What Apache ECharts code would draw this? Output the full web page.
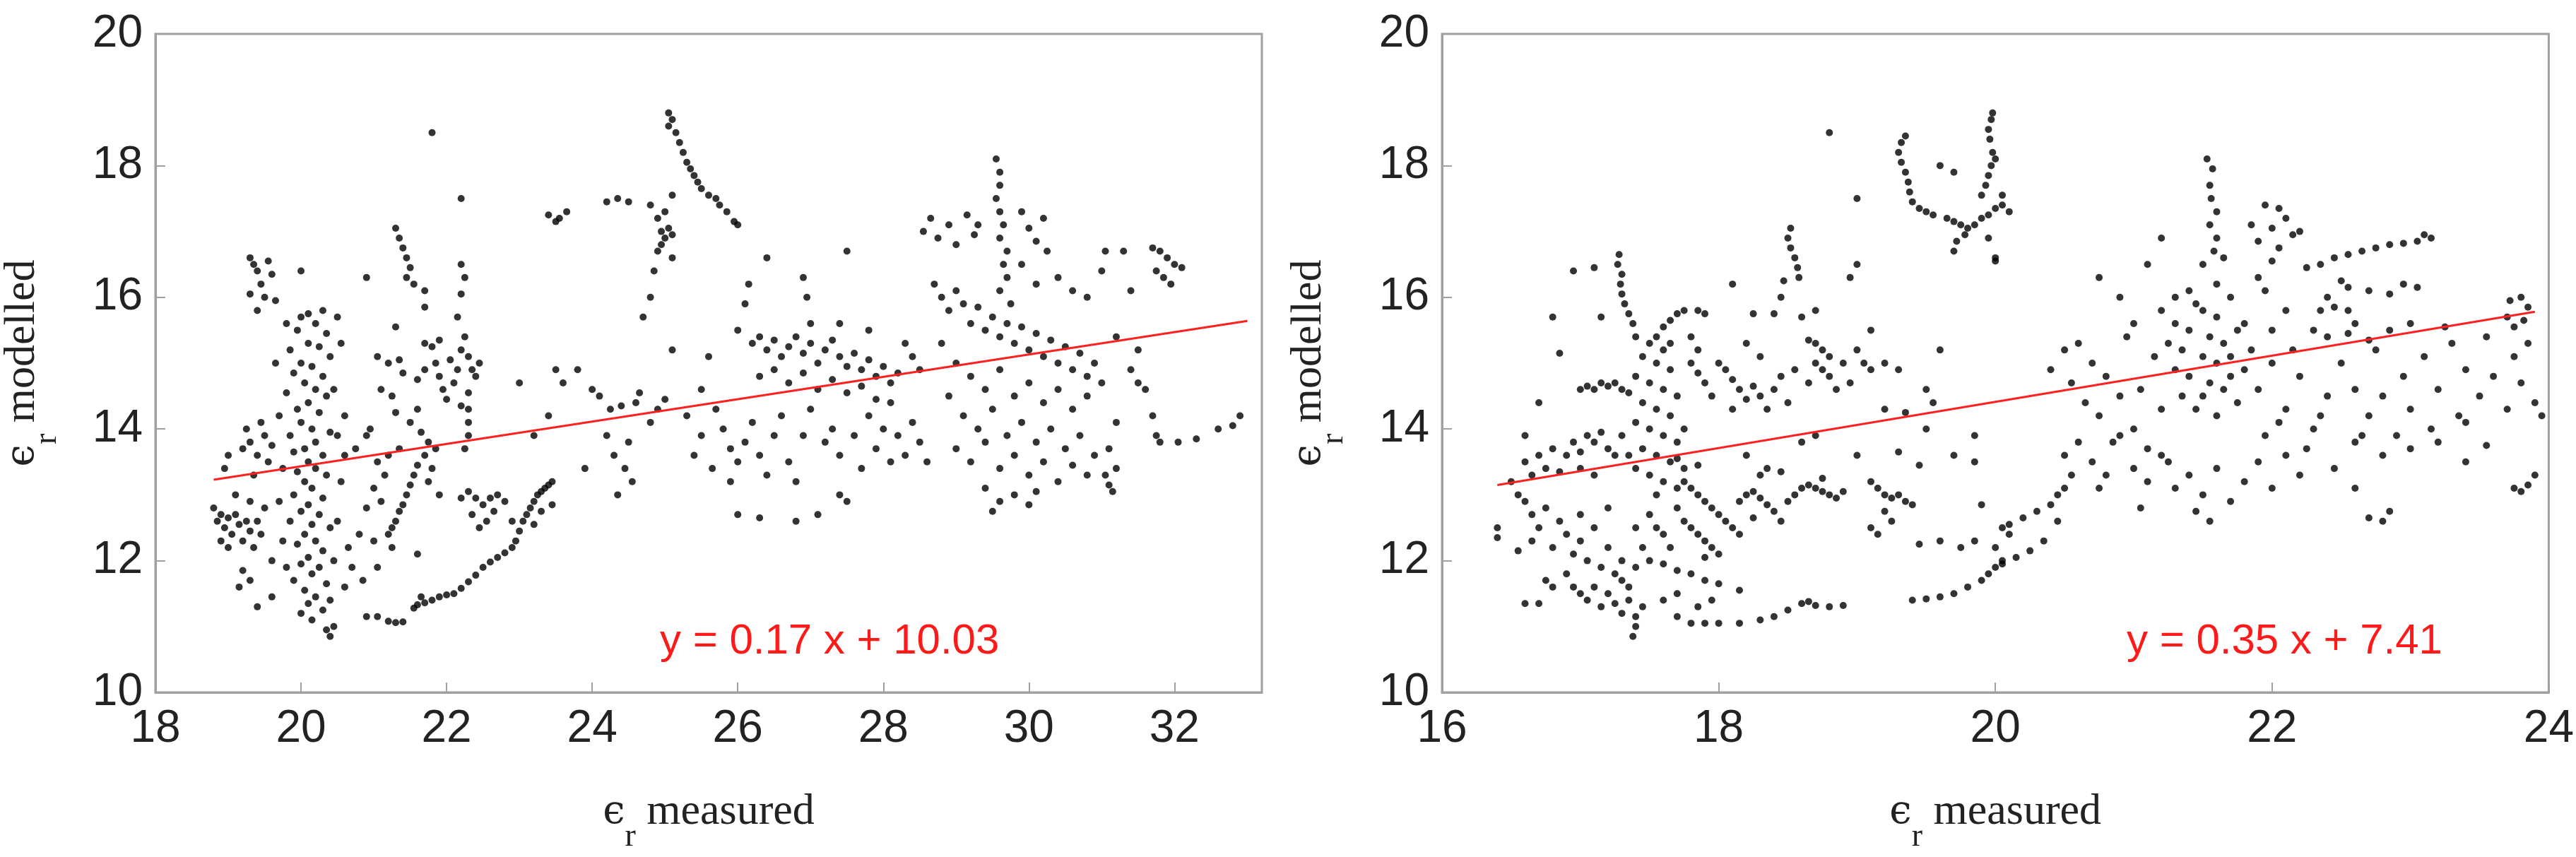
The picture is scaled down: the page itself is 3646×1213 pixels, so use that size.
<!DOCTYPE html>
<html><head><meta charset="utf-8">
<script src="https://cdn.jsdelivr.net/npm/echarts@6/dist/echarts.min.js"></script>
<style>html,body{margin:0;padding:0;background:#fff}#c{width:3646px;height:1213px}</style>
</head><body><div id="c"></div>
<script>
const leftXTicks=[18,20,22,24,26,28,30,32];
const rightXTicks=[16,18,20,22,24];
const yTicks=[10,12,14,16,18,20];
const leftEquation='y = 0.17 x + 10.03';
const rightEquation='y = 0.35 x + 7.41';
const leftFit=[[18.8,13.23],[33.0,15.64]];
const rightFit=[[16.4,13.15],[23.9,15.78]];
const leftPoints=[
[20.0,15.7],[20.1,15.75],[20.3,15.8],[20.2,15.6],[19.95,15.5],[20.35,15.45],[20.1,15.3],[19.85,15.2],[20.25,15.25],[20.4,15.1],[20.0,15.0],[20.15,14.95],[19.9,14.85],[20.3,14.8],[20.05,14.7],[20.2,14.6],[19.8,14.55],[20.35,14.5],[20.1,14.4],[19.95,14.3],[20.25,14.25],[20.0,14.1],[20.15,14.0],[20.4,13.95],[19.85,13.9],[20.2,13.8],[20.05,13.7],[19.9,13.65],[20.3,13.6],[20.1,13.5],[20.2,13.4],[19.95,13.35],[20.35,13.3],[20.05,13.2],[20.15,13.1],[19.9,13.0],[20.3,12.95],[20.1,12.85],[20.0,12.75],[20.25,12.7],[19.85,12.6],[20.15,12.55],[20.4,12.5],[20.05,12.4],[20.2,12.3],[19.95,12.25],[20.3,12.15],[20.1,12.05],[20.0,11.95],[20.25,11.9],[20.15,11.8],[19.9,11.7],[20.35,11.65],[20.05,11.55],[20.2,11.45],[20.1,11.35],[20.3,11.25],[20.0,11.2],[20.15,11.1],[20.35,10.95],[20.4,11.4],[20.45,12.0],[20.5,12.6],[20.55,13.2],[20.5,13.9],[20.45,14.6],[19.75,13.4],[19.7,12.9],[19.75,12.3],[19.8,11.9],[19.7,14.2],[19.65,15.0],[19.8,15.6],[20.55,15.3],[20.6,14.2],[20.65,12.2],[20.6,11.6],[20.7,11.9],[20.8,12.4],[20.9,12.8],[21.0,12.3],[20.85,11.7],[21.05,11.9],[20.45,11.0],[20.4,10.85],[20.6,13.6],[20.75,13.7],[20.5,15.7],
[18.8,12.8],[18.85,12.6],[18.9,12.7],[18.95,12.5],[19.0,12.65],[19.05,12.4],[19.1,12.7],[19.15,12.55],[19.2,12.3],[19.25,12.6],[19.3,12.45],[19.35,12.2],[19.0,12.2],[18.9,12.3],[19.4,12.6],[19.45,12.4],[19.5,12.8],[19.3,12.9],[19.1,13.0],[19.2,13.7],[19.3,13.8],[19.4,13.6],[19.5,13.9],[19.6,13.75],[19.25,14.0],[19.45,14.1],[19.55,13.5],[19.6,12.0],[19.3,11.7],[19.15,11.6],[19.4,11.3],[19.6,11.45],[19.2,11.85],[18.95,13.4],[19.0,13.6],[19.35,13.3],
[19.3,16.6],[19.35,16.5],[19.4,16.4],[19.55,16.55],[19.6,16.35],[19.45,16.2],[19.5,16.0],[19.3,16.05],[19.65,15.95],[19.4,15.8],[20.0,16.4],
[21.3,17.05],[21.35,16.9],[21.4,16.75],[21.45,16.6],[21.5,16.45],[21.45,16.3],[21.55,16.2],[21.7,16.1],[21.7,15.85],[21.3,15.55],[21.05,15.1],[21.2,15.0],[21.35,15.05],[21.4,14.85],[21.1,14.6],[21.25,14.5],[21.3,14.25],[21.6,14.3],[21.5,14.1],[21.65,13.95],[21.75,13.8],[21.7,13.6],[21.6,13.45],[21.55,13.3],[21.5,13.15],[21.45,13.0],[21.4,12.85],[21.35,12.75],[21.3,12.6],[21.25,12.5],[21.2,12.4],[21.15,13.3],[21.05,13.5],[21.2,13.6],[21.35,13.7],[20.95,14.0],[20.9,13.9],[21.1,12.9],[21.0,13.1],[21.25,12.2],[21.8,13.4],[21.85,13.7],[21.75,13.2],
[21.7,15.3],[21.8,15.25],[21.9,15.35],[21.85,15.0],[21.9,14.8],[21.95,14.6],[22.0,14.45],[22.1,14.7],[22.15,14.9],[22.05,15.05],[22.2,15.2],[22.25,15.4],[22.3,15.1],[22.35,14.9],[22.4,14.8],[22.45,15.0],[22.3,14.55],[21.6,14.75],[21.7,14.9],[22.2,14.35],[22.3,14.3],[22.25,13.7],[22.3,13.9],[22.3,14.1],[22.2,16.5],[22.25,16.3],[22.2,16.05],[21.8,18.5],[22.2,17.5],[22.15,15.7],[20.9,16.3],
[20.9,11.15],[21.05,11.15],[21.2,11.08],[21.3,11.06],[21.4,11.07],[21.55,11.28],[21.6,11.33],[21.7,11.36],[21.8,11.4],[21.9,11.45],[22.0,11.48],[22.1,11.5],[22.2,11.58],[22.3,11.68],[22.4,11.78],[22.5,11.9],[22.6,11.98],[22.7,12.05],[22.8,12.12],[22.9,12.2],[22.95,12.3],[23.0,12.45],[23.05,12.6],[23.1,12.7],[23.15,12.8],[23.2,12.9],[23.25,13.0],[23.3,13.05],[23.35,13.1],[23.4,13.15],[23.3,12.75],[23.2,12.55],[23.45,12.85],[23.45,13.2],[21.65,11.45],
[22.3,13.05],[22.4,12.95],[22.5,12.85],[22.6,12.95],[22.7,13.0],[22.8,12.9],[22.65,12.75],[22.55,12.6],[22.45,12.5],[22.35,12.7],[22.9,12.6],[22.2,12.95],[21.9,13.0],[21.6,12.1],
[23.4,17.25],[23.5,17.15],[23.55,17.2],[23.65,17.3],[24.2,17.45],[24.35,17.5],[24.5,17.45],[24.8,17.4],[24.9,17.2],[24.95,17.0],[25.0,16.9],[24.95,16.8],[25.05,17.05],[25.0,17.3],[24.9,16.7],[24.85,16.4],[25.1,16.95],[25.1,16.6],[25.05,18.8],[25.1,18.7],[25.05,18.6],[25.15,18.5],[25.2,18.35],[25.25,18.2],[25.3,18.05],[25.35,17.95],[25.4,17.85],[25.45,17.75],[25.5,17.65],[25.6,17.55],[25.7,17.5],[25.75,17.4],[25.85,17.3],[25.95,17.15],[26.0,17.1],[25.1,17.55],[24.8,16.0],[24.7,15.7],
[23.2,13.9],[23.4,14.2],[23.6,14.7],[23.8,14.9],[23.5,14.9],[24.0,14.6],[24.1,14.5],[24.25,14.3],[24.4,14.35],[24.3,13.6],[24.5,13.8],[24.6,14.4],[24.65,14.55],[24.8,14.1],[24.9,14.3],[25.0,14.45],[25.1,15.2],[25.3,14.2],[25.4,13.6],[25.5,14.6],[25.6,15.1],[25.5,13.9],[24.45,13.4],[24.55,13.2],[24.35,13.0],[23.9,13.4],[24.2,13.9],[23.0,14.7],
[26.0,15.5],[26.2,15.3],[26.3,15.4],[26.4,15.2],[26.5,15.35],[26.6,15.1],[26.7,15.25],[26.8,15.4],[26.9,15.15],[27.0,15.3],[27.1,15.0],[27.2,15.2],[27.3,15.35],[27.4,15.1],[27.5,14.95],[27.6,15.15],[27.7,14.9],[27.8,15.05],[27.9,14.8],[28.0,14.95],[28.1,14.7],[28.2,14.85],[26.5,14.9],[26.7,14.7],[26.9,14.85],[27.1,14.6],[27.3,14.75],[27.5,14.55],[27.7,14.65],[27.9,14.45],[28.1,14.4],[26.3,14.8],[27.0,15.6],[27.4,15.6],[27.8,15.5],[28.3,15.3],[28.4,15.1],[28.5,14.9],[26.15,16.2],[26.1,15.9],[26.4,16.6],[26.9,16.3],[26.95,16.0],[27.5,16.7],
[25.7,14.3],[25.8,14.0],[25.9,13.7],[26.0,13.5],[26.1,13.8],[26.2,14.1],[26.3,13.6],[26.4,13.3],[26.5,13.9],[26.6,14.2],[26.7,13.5],[26.8,13.2],[26.9,13.9],[27.0,14.3],[27.2,13.8],[27.3,14.0],[27.4,13.6],[27.6,13.9],[27.7,13.4],[27.8,14.2],[27.9,13.7],[28.0,14.0],[28.1,13.5],[28.2,13.9],[28.3,13.6],[28.4,14.1],[28.5,13.8],[28.6,13.5],[26.0,12.7],[26.3,12.65],[26.8,12.6],[27.1,12.7],[27.4,13.0],[27.5,12.9],[25.65,13.4],[25.9,13.2],
[28.7,16.2],[28.8,16.0],[28.9,15.8],[29.0,16.1],[29.1,15.9],[29.2,15.6],[29.3,15.85],[29.4,15.5],[29.5,15.7],[29.6,15.4],[29.7,15.6],[29.8,15.3],[29.9,15.55],[30.0,15.2],[30.1,15.45],[30.2,15.1],[30.3,15.35],[30.4,15.0],[30.5,15.25],[30.6,14.9],[30.7,15.15],[30.8,14.8],[30.9,15.0],[31.0,14.7],[28.8,15.3],[29.0,15.0],[29.2,14.8],[29.4,14.6],[29.6,14.9],[29.8,14.5],[30.0,14.7],[30.2,14.4],[30.4,14.6],[30.6,14.3],[30.8,14.5],[28.9,14.5],[29.1,14.2],[29.3,14.0],[29.5,14.3],[29.7,13.9],[29.9,14.1],[30.1,13.8],[30.3,14.0],[30.5,13.7],[30.7,13.9],[30.9,13.6],[29.0,13.7],[29.2,13.5],[29.4,13.8],[29.6,13.4],[29.8,13.6],[30.0,13.3],[30.2,13.5],[30.4,13.2],[30.6,13.45],[30.8,13.3],[29.4,13.1],[29.6,12.9],[29.8,13.0],[30.0,12.85],[30.1,13.05],[29.5,12.75],
[29.55,18.1],[29.6,17.9],[29.6,17.7],[29.55,17.5],[29.6,17.3],[29.65,17.1],[29.6,16.9],[29.7,16.7],[29.65,16.5],[29.7,16.3],[29.6,16.1],[29.75,15.9],
[28.55,17.0],[28.65,17.2],[28.75,16.9],[28.9,17.1],[29.0,16.8],[29.15,17.25],[29.25,16.95],[29.3,17.1],[29.9,17.3],[30.0,17.05],[30.1,16.85],[30.2,17.2],[30.25,16.7],[29.9,16.5],[30.1,16.2],[30.4,16.3],[30.6,16.1],[30.8,16.0],[31.0,16.4],[31.05,16.7],
[31.3,16.7],[31.7,16.75],[31.8,16.7],[31.9,16.6],[32.0,16.5],[32.1,16.45],[31.75,16.4],[31.85,16.3],[31.95,16.2],[31.4,16.1],[31.2,15.4],[31.5,15.2],[31.4,14.9],[31.5,14.7],[31.6,14.6],[31.7,14.2],[31.75,13.9],[31.8,13.8],[32.05,13.8],[32.3,13.85],[32.6,14.0],[32.8,14.05],[32.9,14.2],[31.2,14.1],[31.1,13.7],[31.05,13.3],[31.1,13.15],[31.15,13.05],[31.2,13.4]
];
const rightPoints=[
[17.4,15.4],[17.5,15.3],[17.6,15.2],[17.45,15.1],[17.55,15.0],[17.65,14.9],[17.4,14.8],[17.5,14.7],[17.6,14.6],[17.7,14.5],[17.45,14.4],[17.55,14.3],[17.65,14.2],[17.4,14.1],[17.5,14.0],[17.6,13.9],[17.7,13.8],[17.45,13.7],[17.55,13.6],[17.65,13.5],[17.4,13.4],[17.5,13.3],[17.6,13.2],[17.7,13.1],[17.55,13.0],[17.35,13.6],[17.3,13.9],[17.75,14.0],[17.75,13.4],[17.65,15.3],
[17.28,16.65],[17.27,16.5],[17.3,16.35],[17.29,16.2],[17.3,16.05],[17.32,15.9],[17.35,15.75],[17.38,15.6],[16.95,16.4],[17.1,16.45],[16.8,15.7],[17.15,15.7],
[17.6,15.55],[17.65,15.65],[17.7,15.75],[17.75,15.8],[17.85,15.8],[17.9,15.75],[17.55,15.4],[17.8,15.4],[17.85,15.2],
[17.0,14.6],[17.05,14.65],[17.1,14.6],[17.15,14.7],[17.2,14.65],[17.25,14.7],[17.3,14.6],[17.35,14.55],[16.7,14.4],
[16.6,13.5],[16.7,13.6],[16.75,13.4],[16.8,13.7],[16.9,13.6],[16.95,13.8],[17.0,13.65],[17.05,13.9],[17.1,13.8],[17.15,13.95],[17.2,13.7],[17.25,13.6],[16.65,13.3],[16.85,13.35],[17.0,13.4],[17.1,13.3],[16.5,13.2],[16.55,13.0],
[16.6,12.9],[16.65,12.7],[16.7,12.5],[16.75,12.8],[16.65,12.3],[16.8,12.2],[16.85,12.6],[16.9,12.4],[16.95,12.1],[17.0,12.3],[17.05,12.0],[17.1,12.5],[17.15,11.9],[17.2,12.2],[17.25,11.8],[17.3,12.0],[17.35,11.6],[17.4,11.9],[16.9,11.8],[16.95,11.6],[17.0,11.5],[17.05,11.4],[17.1,11.6],[17.15,11.3],[17.2,11.5],[17.25,11.35],[17.3,11.2],[17.35,11.4],[17.4,11.15],[17.45,11.3],[16.8,11.6],[16.7,11.35],[16.75,11.7],[17.0,12.7],[17.2,12.8],[17.4,12.5],[17.45,12.2],[16.4,12.5],[16.4,12.35],[16.6,11.35],[17.38,10.85],[17.4,11.0],[17.3,11.7],[16.55,12.15],
[17.75,13.2],[17.8,13.1],[17.85,13.0],[17.9,12.9],[17.95,12.8],[18.0,12.7],[18.05,12.6],[18.1,12.5],[17.7,12.8],[17.75,12.6],[17.8,12.5],[17.85,12.4],[17.9,12.3],[17.95,12.2],[18.0,12.1],[17.6,12.4],[17.65,12.2],[17.5,12.7],[17.55,12.5],[17.5,12.0],[17.6,11.95],[17.7,11.85],[17.8,11.8],[17.9,11.7],[18.0,11.65],[18.15,12.4],[18.25,12.65],[17.9,12.05],[17.7,13.55],[17.85,13.45],
[17.8,15.0],[17.85,14.85],[17.9,14.7],[18.0,15.0],[18.05,14.9],[18.1,14.75],[18.15,14.6],[18.2,14.45],[18.25,14.65],[18.3,14.5],[18.35,14.3],[18.4,14.6],[18.45,14.8],[18.5,14.4],[18.2,15.3],[18.3,15.1],[17.95,14.5],[18.1,14.3],[18.6,13.8],[18.7,13.9],
[18.15,12.9],[18.2,13.0],[18.25,13.05],[18.3,12.95],[18.35,12.85],[18.4,12.75],[18.45,12.6],[18.5,12.9],[18.55,13.0],[18.6,13.1],[18.3,13.3],[18.35,13.4],[18.45,13.35],[18.2,13.6],
[18.65,13.15],[18.7,13.1],[18.75,13.05],[18.8,13.0],[18.85,12.95],[18.9,13.05],[18.75,13.25],
[18.52,17.05],[18.5,16.9],[18.52,16.75],[18.55,16.6],[18.57,16.45],[18.58,16.3],[18.47,16.25],[18.45,16.0],[18.6,15.7],[18.25,15.75],[18.4,15.75],
[18.65,15.35],[18.7,15.3],[18.75,15.2],[18.8,15.1],[18.7,15.0],[18.75,14.9],[18.8,14.8],[18.65,14.7],[18.85,14.6],[18.9,15.0],[18.95,14.7],[19.0,15.2],[19.05,15.0],[19.1,14.9],[18.55,14.9],
[17.7,11.15],[17.8,11.05],[17.9,11.05],[18.0,11.05],[18.15,11.05],[18.3,11.1],[18.4,11.15],[18.5,11.25],[18.6,11.35],[18.65,11.38],[18.7,11.32],[18.8,11.3],[18.9,11.32],[17.6,11.4],[17.7,11.5],[17.85,11.3],[17.95,11.4],[18.15,11.55],
[19.4,11.4],[19.5,11.42],[19.6,11.45],[19.7,11.5],[19.8,11.6],[19.9,11.7],[19.95,11.8],[20.0,11.9],[20.05,12.0],[20.0,12.2],[20.05,12.5],[19.85,12.3],[19.75,12.2],
[19.35,18.45],[19.32,18.35],[19.3,18.2],[19.32,18.05],[19.35,17.9],[19.37,17.75],[19.38,17.6],[19.4,17.45],[19.45,17.35],[19.5,17.3],[19.55,17.25],[19.6,18.0],[19.7,17.9],
[19.65,17.2],[19.7,17.15],[19.75,17.1],[19.8,17.05],[19.85,17.1],[19.9,17.2],[19.95,17.25],[20.0,17.35],[20.05,17.4],[19.78,16.95],[19.72,16.85],[19.7,16.7],[19.95,16.9],[20.0,16.55],[20.1,17.3],[20.05,17.55],[20.0,16.6],
[19.98,18.8],[19.97,18.7],[19.95,18.55],[19.96,18.4],[19.98,18.2],[19.97,18.0],[19.95,17.85],[19.93,17.7],[19.9,17.55],[20.0,18.1],
[19.1,13.2],[19.15,13.1],[19.2,13.0],[19.25,12.95],[19.2,12.75],[19.25,12.6],[19.1,12.5],[19.15,12.4],[19.35,12.9],[19.4,12.85],[19.3,13.0],[19.0,13.6],[19.3,13.65],[19.45,13.45],
[19.5,14.0],[19.7,13.6],[19.2,14.3],[19.5,14.6],[19.3,14.9],[19.6,15.2],[19.85,13.5],[19.9,12.85],[19.6,12.3],[19.45,12.25],[19.85,13.9],[18.8,18.5],[19.0,17.5],[18.1,16.2],[19.1,15.5],[18.95,16.3],[19.0,16.5],[18.7,15.8],[19.35,14.25],[19.2,15.0],[19.55,14.4],[16.85,15.15],[16.6,13.9],
[20.1,12.55],[20.2,12.65],[20.3,12.75],[20.4,12.85],[20.45,13.0],[20.5,13.1],[20.05,11.95],[20.15,12.05],[20.25,12.15],[20.35,12.3],[20.45,12.6],[20.1,12.4],
[20.4,14.9],[20.5,15.2],[20.55,14.7],[20.6,15.3],[20.65,14.4],[20.7,15.0],[20.75,14.2],[20.8,14.8],[20.85,13.8],[20.9,14.5],[20.95,15.4],[21.0,14.0],[21.05,14.6],[21.1,13.7],[21.15,15.1],[21.2,14.3],[21.25,13.5],[21.3,14.9],
[20.6,13.8],[20.7,13.5],[20.8,13.3],[20.9,13.9],[21.0,13.4],[21.1,13.2],[21.2,13.6],[21.3,13.1],[20.5,13.6],[20.55,13.3],[20.75,13.1],[21.4,13.3],[21.5,13.0],[21.6,13.4],[21.7,12.9],[21.8,13.2],[21.9,13.5],[22.0,13.1],[22.1,13.6],[22.2,13.3],[21.05,12.8],[21.45,12.75],[21.55,12.6],
[21.3,15.6],[21.35,15.2],[21.4,14.8],[21.45,15.9],[21.5,14.5],[21.55,15.4],[21.6,15.0],[21.65,14.6],[21.7,16.0],[21.75,15.5],[21.8,14.9],[21.85,15.2],[21.4,15.5],[21.5,15.1],[21.6,15.7],[21.7,14.8],[21.8,15.6],[21.45,14.3],[21.55,14.7],[21.65,15.3],[21.75,14.4],[21.35,14.5],[21.6,14.2],[21.7,15.1],[21.5,15.8],[21.4,16.1],[21.6,16.2],[21.3,16.0],[21.2,15.8],[21.25,15.3],
[21.9,14.6],[22.0,15.0],[22.1,14.3],[22.2,14.8],[22.3,14.0],[22.4,14.5],[21.95,13.9],[22.05,14.1],[22.15,15.2],[22.25,13.7],[22.35,14.2],[22.0,15.5],[22.1,15.8],[21.9,16.3],[22.0,16.55],[21.95,16.1],[20.9,16.0],[21.0,15.6],[21.1,16.5],[21.2,16.9],[20.75,16.3],
[21.53,18.1],[21.57,17.95],[21.55,17.7],[21.56,17.5],[21.6,17.3],[21.55,17.1],[21.6,16.9],[21.58,16.7],[21.5,16.5],[21.65,16.6],
[21.95,17.4],[22.05,17.35],[22.1,17.2],[22.0,17.05],[22.15,16.95],[21.9,16.85],[22.05,16.75],[22.2,17.0],[21.85,17.1],
[22.25,16.45],[22.35,16.5],[22.45,16.6],[22.55,16.65],[22.65,16.7],[22.75,16.75],[22.85,16.8],[22.95,16.82],[23.05,16.85],[23.15,16.9],[23.1,16.95],
[22.4,16.0],[22.55,16.15],[22.7,16.1],[22.85,16.05],[22.95,16.2],[23.05,16.15],[22.5,16.25],
[22.35,15.8],[22.45,15.85],[22.55,15.8],[22.6,15.6],[22.55,15.45],[22.4,15.4],[22.3,15.5],
[22.5,15.0],[22.6,14.6],[22.7,14.2],[22.75,15.2],[22.8,14.5],[22.9,13.9],[22.95,14.8],[23.0,14.3],[23.1,15.1],[23.15,14.0],[23.2,14.6],[23.3,15.3],[23.35,14.2],[23.4,14.9],[23.5,14.5],[23.55,15.4],[23.6,14.8],[23.7,14.3],[23.75,15.1],[23.8,14.7],[23.85,15.3],[23.9,14.4],[23.95,14.2],[22.6,13.8],[22.8,13.6],[23.0,13.7],[23.2,13.8],[23.4,14.1],[22.45,13.4],[22.65,13.9],[22.85,15.5],[23.0,15.6],[23.25,15.55],[22.7,15.35],
[23.72,15.95],[23.8,16.0],[23.85,15.85],[23.82,15.65],[23.75,15.55],[23.7,15.7],
[22.6,13.1],[22.7,12.65],[22.8,12.6],[22.85,12.75],[23.75,13.1],[23.8,13.05],[23.85,13.15],[23.9,13.3],[23.55,13.75],[23.4,13.5]
];

const chart=echarts.init(document.getElementById('c'),null,{renderer:'canvas'});
const axisLineStyle={color:'#a0a0a0',width:3};
const nameRich={e:{fontFamily:'DejaVu Serif',fontSize:56,color:'#222'},s:{fontFamily:'Liberation Serif',fontSize:46,color:'#222',verticalAlign:'top',padding:[70,0,0,0]},t:{fontFamily:'Liberation Serif',fontSize:62,color:'#222'}};
function xAx(idx,min,max){return {gridIndex:idx,type:'value',min:min,max:max,interval:2,
  axisLine:{show:true,onZero:false,lineStyle:axisLineStyle},axisTick:{inside:true,length:14,lineStyle:{color:'#a0a0a0',width:2}},
  splitLine:{show:false},axisLabel:{showMaxLabel:max%2===0,fontFamily:'Liberation Sans',fontSize:64,color:'#222',margin:20},
  name:'{e|ϵ}{s|r}{t| measured}',nameLocation:'middle',nameGap:112,nameTextStyle:{rich:nameRich}};}
function yAx(idx){return {gridIndex:idx,type:'value',min:10,max:20,interval:2,
  axisLine:{show:true,onZero:false,lineStyle:axisLineStyle},axisTick:{inside:true,length:14,lineStyle:{color:'#a0a0a0',width:2}},
  splitLine:{show:false},axisLabel:{fontFamily:'Liberation Sans',fontSize:64,color:'#222',margin:18},
  name:'{e|ϵ}{s|r}{t| modelled}',nameLocation:'middle',nameGap:130,nameRotate:90,nameTextStyle:{rich:nameRich}};}
function scat(i,d){return {type:'scatter',xAxisIndex:i,yAxisIndex:i,data:d,symbolSize:10,itemStyle:{color:'#000'},silent:true};}
function fit(i,d){return {type:'line',xAxisIndex:i,yAxisIndex:i,data:d,symbol:'none',lineStyle:{color:'#ff2020',width:3},z:5,silent:true};}
chart.setOption({
  animation:false,backgroundColor:'#fff',
  grid:[{left:212,top:48,width:1574,height:947,show:true,borderColor:'#a0a0a0',borderWidth:3},
        {left:2041,top:48,width:1573,height:947,show:true,borderColor:'#a0a0a0',borderWidth:3}],
  xAxis:[xAx(0,18,33.2),xAx(1,16,24)],
  yAxis:[yAx(0),yAx(1)],
  series:[scat(0,leftPoints),scat(1,rightPoints),fit(0,leftFit),fit(1,rightFit)],
  graphic:[
    {type:'text',left:934,top:878,style:{text:leftEquation,fill:'#ff1a1a',font:'60px "Liberation Sans"'}},
    {type:'text',left:3010,top:878,style:{text:rightEquation,fill:'#ff1a1a',font:'60px "Liberation Sans"'}}
  ]
});
</script></body></html>
